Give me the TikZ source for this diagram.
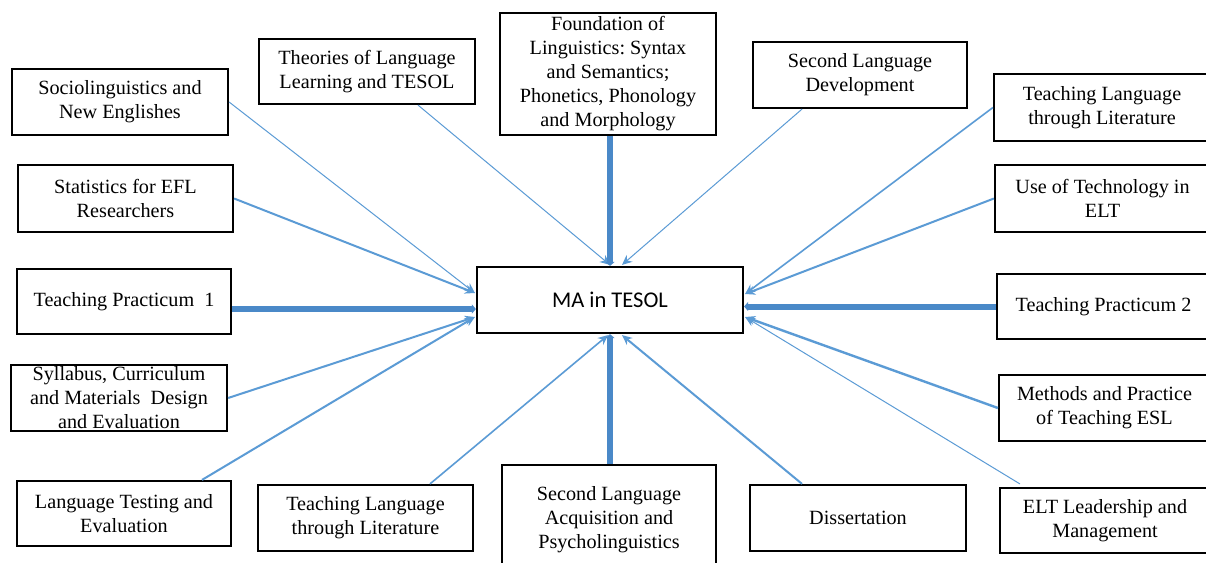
\documentclass[tikz,border=0pt]{standalone}
\usepackage{fontspec}
\setmainfont{Liberation Serif}
\newfontfamily\carlito{Carlito}
\usetikzlibrary{arrows.meta,calc}
\definecolor{linkblue}{HTML}{5B9BD5}
\definecolor{thickblue}{HTML}{4A89C8}
\tikzset{
  box/.style={draw=black, line width=2.2pt, inner sep=0pt, align=center,
    font=\fontsize{20.2}{24}\selectfont},
  link/.style={draw=linkblue, -{Stealth[length=10pt,width=9pt]}},
  biglink/.style={draw=thickblue, line width=6pt, -{Triangle[length=4pt,width=9pt]}},
}
\begin{document}
\begin{tikzpicture}[x=1pt,y=-1pt]
\path[use as bounding box, clip] (0,0) rectangle (1206,562);
\fill[white] (0,0) rectangle (1206,562);

% left column
\node[box, minimum width=216pt, minimum height=66pt] (soc) at (120,102) {Sociolinguistics and\\New Englishes};
\node[box, minimum width=215pt, minimum height=67pt] (stat) at (125.5,198.5) {Statistics for EFL\\Researchers};
\node[box, minimum width=214pt, minimum height=65pt] (tp1) at (124,301.5) {Teaching Practicum\ \ 1};
\node[box, minimum width=216pt, minimum height=66pt] (syl) at (119,398) {Syllabus, Curriculum\\and Materials\ \ Design\\and Evaluation};
\node[box, minimum width=214pt, minimum height=65pt] (lte) at (124,513.5) {Language Testing and\\Evaluation};

% top row
\node[box, minimum width=216pt, minimum height=65pt] (theo) at (367,71.5) {Theories of Language\\Learning and TESOL};
\node[box, minimum width=216pt, minimum height=122pt] (found) at (608,74) {Foundation of\\Linguistics:\ Syntax\\and Semantics;\\Phonetics, Phonology\\and Morphology};
\node[box, minimum width=214pt, minimum height=66pt] (sld) at (860,75) {Second Language\\Development};

% right column
\node[box, minimum width=216pt, minimum height=67pt] (tlr) at (1102,107.5) {Teaching Language\\through Literature};
\node[box, minimum width=215pt, minimum height=67pt] (tech) at (1102.5,198.5) {Use of Technology in\\ELT};
\node[box, minimum width=213pt, minimum height=65pt] (tp2) at (1103.5,306.5) {Teaching Practicum 2};
\node[box, minimum width=211pt, minimum height=66pt] (meth) at (1104.5,408) {Methods and Practice\\of Teaching ESL};
\node[box, minimum width=210pt, minimum height=65pt] (elt) at (1105,520.5) {ELT Leadership and\\Management};

% bottom row
\node[box, minimum width=215pt, minimum height=66pt] (tlb) at (365.5,518) {Teaching Language\\through Literature};
\node[box, minimum width=214pt, minimum height=110pt] (sla) at (609,520) {Second Language\\Acquisition and\\Psycholinguistics};
\node[box, minimum width=216pt, minimum height=66pt] (diss) at (858,518) {Dissertation};

% centre
\node[box, minimum width=266pt, minimum height=66pt, font=\carlito\fontsize{22.5}{26}\selectfont] (ma) at (610,300) {MA in TESOL};

% end points on the centre box
\coordinate (L1) at ($(ma.west)+(-1,-7)$);
\coordinate (L3) at ($(ma.west)+(-1,17)$);
\coordinate (R1) at ($(ma.east)+(1,-6)$);
\coordinate (R3) at ($(ma.east)+(1,17)$);
\coordinate (T1) at ($(ma.north)+(0,-1)$);
\coordinate (T2) at ($(ma.north)+(12,-1)$);
\coordinate (B1) at ($(ma.south)+(-2,1)$);
\coordinate (B2) at ($(ma.south)+(12,1)$);

% thin / medium connectors
\draw[link, line width=1pt] (soc.east) -- (L1);
\draw[link, line width=2pt] (stat.east) -- (L1);
\draw[link, line width=2pt] (syl.east) -- (L3);
\draw[link, line width=2pt] ($(lte.north)+(78,0)$) -- (L3);
\draw[link, line width=1pt] ($(theo.south)+(51,0)$) -- (T1);
\draw[link, line width=1pt] ($(sld.south)+(-58,0)$) -- (T2);
\draw[link, line width=1.6pt] (tlr.west) -- (R1);
\draw[link, line width=2pt] (tech.west) -- (R1);
\draw[link, line width=2.4pt] (meth.west) -- (R3);
\draw[link, line width=1pt] ($(elt.north west)+(21,-3)$) -- (R3);
\draw[link, line width=1.6pt] ($(tlb.north)+(64.5,0)$) -- (B1);
\draw[link, line width=2pt] ($(diss.north)+(-56,0)$) -- (B2);

% thick connectors
\draw[biglink] (ma.north |- found.south) -- (ma.north);
\draw[biglink] (ma.south |- sla.north) -- (ma.south);
\draw[biglink] ($(tp1.east)+(0,7.5)$) -- ($(ma.west)+(0,9)$);
\draw[biglink] (tp2.west) -- ($(ma.east)+(0,6.5)$);
\end{tikzpicture}
\end{document}
